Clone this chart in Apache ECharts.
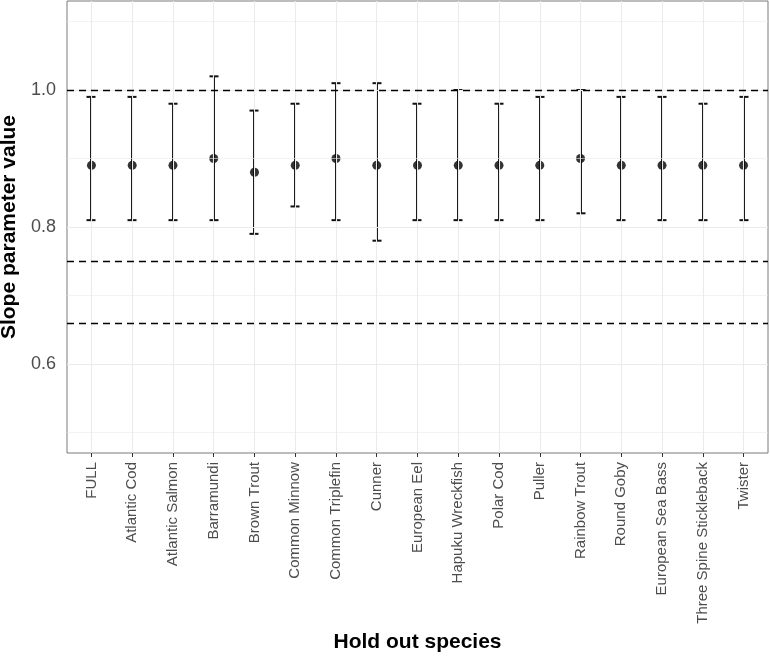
<!DOCTYPE html>
<html>
<head>
<meta charset="utf-8">
<script src="https://cdn.jsdelivr.net/npm/echarts@6/dist/echarts.min.js"></script>
<style>html,body{margin:0;padding:0;background:#fff}#c{width:770px;height:657px}</style>
</head>
<body>
<div id="c"></div>
<script>
const species = ["FULL","Atlantic Cod","Atlantic Salmon","Barramundi","Brown Trout","Common Minnow","Common Triplefin","Cunner","European Eel","Hapuku Wreckfish","Polar Cod","Puller","Rainbow Trout","Round Goby","European Sea Bass","Three Spine Stickleback","Twister"];
const estimate = [0.89,0.89,0.89,0.90,0.88,0.89,0.90,0.89,0.89,0.89,0.89,0.89,0.90,0.89,0.89,0.89,0.89];
const lower    = [0.81,0.81,0.81,0.81,0.79,0.83,0.81,0.78,0.81,0.81,0.81,0.81,0.82,0.81,0.81,0.81,0.81];
const upper    = [0.99,0.99,0.98,1.02,0.97,0.98,1.01,1.01,0.98,1.00,0.98,0.99,1.00,0.99,0.99,0.98,0.99];
const refLines = [1.0,0.75,0.66];
const yTicks = [0.6,0.8,1.0];
const yMinor = [0.5,0.7,0.9,1.1];

const idx = species.map((s,i)=>i);
const chart = echarts.init(document.getElementById('c'), null, {renderer:'canvas'});
const font = 'Liberation Sans, Arial, Helvetica, sans-serif';
const gridStyleMajor = {color:'#ebebeb', width:1.1, type:'solid'};
const gridStyleMinor = {color:'#ebebeb', width:0.6, type:'solid'};

chart.setOption({
  animation:false,
  backgroundColor:'#fff',
  grid:{left:67,right:2,top:1,bottom:204,containLabel:false,outerBoundsMode:'none',
    show:true,borderColor:'#7a7a7a',borderWidth:1,backgroundColor:'#fff'},
  xAxis:{
    type:'value', min:-0.6, max:16.6,
    name:'Hold out species', nameLocation:'middle', nameGap:177,
    nameTextStyle:{fontFamily:font,fontWeight:'bold',fontSize:21,color:'#000'},
    axisLine:{show:false},
    axisTick:{show:true,length:4,lineStyle:{color:'#333',width:1},customValues:idx},
    axisLabel:{rotate:90,margin:9,fontFamily:font,fontSize:15,color:'#4d4d4d',customValues:idx,
      formatter:v=>species[Math.round(v)]},
    splitLine:{show:false}
  },
  yAxis:{
    type:'value', min:0.47, max:1.13,
    name:'Slope parameter value', nameLocation:'middle', nameGap:41,
    nameTextStyle:{fontFamily:font,fontWeight:'bold',fontSize:21,color:'#000'},
    axisLine:{show:false},
    axisTick:{show:true,length:4,lineStyle:{color:'#333',width:1},customValues:yTicks},
    axisLabel:{margin:11,fontFamily:font,fontSize:18,color:'#4d4d4d',customValues:yTicks,
      formatter:v=>v.toFixed(1)},
    splitLine:{show:false}
  },
  series:[
    {
      type:'line', data:[], z:0, silent:true,
      markLine:{
        silent:true, symbol:'none', label:{show:false}, animation:false,
        data:[
          ...yMinor.map(v=>({yAxis:v, lineStyle:gridStyleMinor})),
          ...yTicks.map(v=>({yAxis:v, lineStyle:gridStyleMajor})),
          ...idx.map(v=>({xAxis:v, lineStyle:gridStyleMajor}))
        ]
      }
    },
    {
      type:'line', data:[], z:1, silent:true,
      markLine:{
        silent:true, symbol:'none', label:{show:false}, animation:false,
        lineStyle:{color:'#000',width:1.4,type:[7,5]},
        data: refLines.map(v=>({yAxis:v}))
      }
    },
    {
      type:'custom', z:3, silent:true,
      data: idx.map(i=>[i, lower[i], upper[i]]),
      encode:{x:0,y:[1,2]},
      renderItem:(params, api)=>{
        const x = api.value(0);
        const lo = api.coord([x, api.value(1)]);
        const hi = api.coord([x, api.value(2)]);
        const hw = 4.5;
        const cx = Math.round(lo[0]);
        const st = {stroke:'#111', lineWidth:2};
        return {type:'group', children:[
          {type:'line', shape:{x1:cx,y1:lo[1],x2:cx,y2:hi[1]}, style:st},
          {type:'line', shape:{x1:cx-hw,y1:lo[1],x2:cx+hw,y2:lo[1]}, style:st},
          {type:'line', shape:{x1:cx-hw,y1:hi[1],x2:cx+hw,y2:hi[1]}, style:st}
        ]};
      }
    },
    {
      type:'scatter', z:4, silent:true, symbol:'circle', symbolSize:9,
      itemStyle:{color:'#000'},
      data: idx.map(i=>[i, estimate[i]])
    }
  ]
});
</script>
</body>
</html>
